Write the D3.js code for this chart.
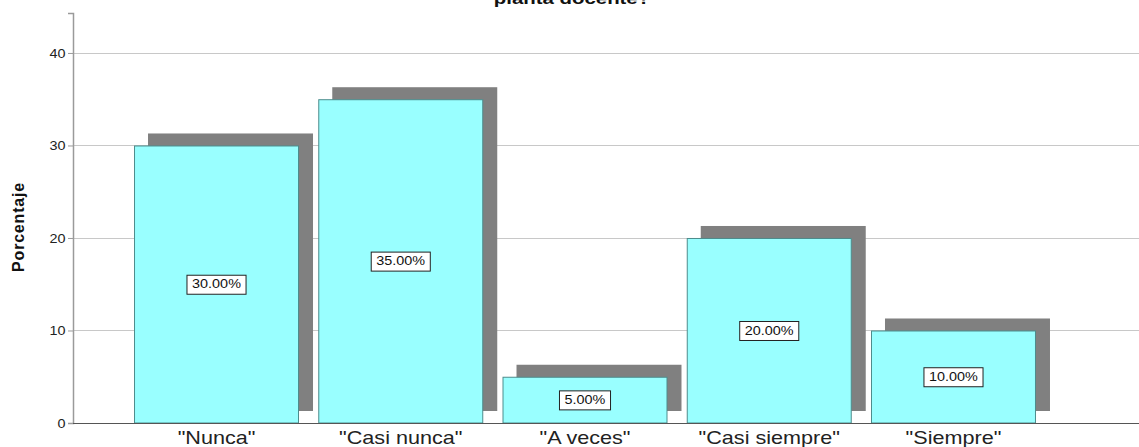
<!DOCTYPE html>
<html><head><meta charset="utf-8">
<script src="https://cdn.jsdelivr.net/npm/d3@7"></script>
<style>html,body{margin:0;padding:0;background:#fff;}svg{display:block;}</style>
</head><body>
<svg id="chart" width="1139" height="447"></svg>
<script>
const categories = ['"Nunca"', '"Casi nunca"', '"A veces"', '"Casi siempre"', '"Siempre"'];
const percentages = [30, 35, 5, 20, 10];
const pctLabels = ["30.00%", "35.00%", "5.00%", "20.00%", "10.00%"];
const yTicks = [0, 10, 20, 30, 40];
const titleText = "planta docente?";
const yTitle = "Porcentaje";

(function () {
const svg = d3.select("#chart");
const pLeft = 73, pRight = 1139, pTop = 13, pBottom = 423;
const SX = 1.2;
const font = "Arial, 'Liberation Sans', sans-serif";

const y = d3.scaleLinear().domain([0, 44.32]).range([pBottom, pTop]);
const x = d3.scaleBand().domain(categories).range([124.4, 1045.6]).paddingInner(0.1045).paddingOuter(0.0522);

// gridlines
svg.append("g").selectAll("line").data(yTicks.filter(d => d > 0)).join("line")
  .attr("x1", pLeft).attr("x2", pRight)
  .attr("y1", d => Math.round(y(d)) + 0.5).attr("y2", d => Math.round(y(d)) + 0.5)
  .attr("stroke", "#c8c8c8").attr("stroke-width", 1);

// y axis
const yAxis = d3.axisLeft(y).tickValues(yTicks).tickSize(5).tickFormat(d3.format("d"));
const ga = svg.append("g").attr("transform", `translate(${pLeft},0)`).call(yAxis);
ga.select(".domain").attr("stroke", "#9a9a9a").attr("stroke-width", 1.5);
ga.selectAll(".tick line").attr("stroke", "#9a9a9a");
ga.selectAll(".tick text")
   .attr("x", null).attr("dy", null)
   .attr("text-anchor", "end")
   .attr("dominant-baseline", "central")
   .attr("transform", `translate(-7.5,0) scale(${SX},1)`)
   .attr("font-family", font).attr("font-size", 12).attr("fill", "#222");

// shadows
const dx = 14, dy = -12;
svg.append("g").selectAll("rect").data(percentages).join("rect")
  .attr("x", (d, i) => x(categories[i]) + dx)
  .attr("y", d => y(d) + dy)
  .attr("width", x.bandwidth())
  .attr("height", d => pBottom - y(d))
  .attr("fill", "#808080");

// bars
svg.append("g").selectAll("rect").data(percentages).join("rect")
  .attr("x", (d, i) => x(categories[i]) + 0.5)
  .attr("y", d => y(d) + 0.5)
  .attr("width", x.bandwidth() - 1)
  .attr("height", d => pBottom - y(d) - 0.5)
  .attr("fill", "#99ffff")
  .attr("stroke", "#4d8c8c").attr("stroke-width", 1);

// x baseline
svg.append("line").attr("x1", pLeft).attr("x2", pRight).attr("y1", pBottom + 0.5).attr("y2", pBottom + 0.5)
  .attr("stroke", "#555").attr("stroke-width", 1.2);

// percentage labels
const lg = svg.append("g");
percentages.forEach((v, i) => {
  const cx = x(categories[i]) + x.bandwidth() / 2;
  const cy = y(v / 2);
  const g = lg.append("g").attr("transform", `translate(${cx},${cy})`);
  const r = g.append("rect");
  const t = g.append("text").text(pctLabels[i])
    .attr("text-anchor", "middle").attr("dominant-baseline", "central")
    .attr("transform", `scale(${SX},1)`)
    .attr("font-family", font).attr("font-size", 12).attr("fill", "#111");
  const bb = t.node().getBBox();
  const w = bb.width * SX + 10;
  const h = 19;
  r.attr("x", -w / 2).attr("y", -h / 2 + 0.5).attr("width", w).attr("height", h)
   .attr("fill", "#fff").attr("stroke", "#222").attr("stroke-width", 1);
});

// x category labels
svg.append("g").selectAll("text").data(categories).join("text")
  .text(d => d)
  .attr("text-anchor", "middle")
  .attr("transform", d => `translate(${x(d) + x.bandwidth() / 2},444) scale(${SX},1)`)
  .attr("font-family", font).attr("font-size", 18).attr("fill", "#222");

// y title
svg.append("text").text(yTitle)
  .attr("text-anchor", "middle")
  .attr("transform", `translate(24,227) rotate(-90)`)
  .attr("font-family", font).attr("font-size", 16).attr("font-weight", "bold")
  .attr("letter-spacing", "0.8px").attr("fill", "#111");

// title (cut off at top, as in the reference)
svg.append("text").text(titleText)
  .attr("text-anchor", "middle")
  .attr("transform", `translate(572,4) scale(${SX},1)`)
  .attr("font-family", font).attr("font-size", 17).attr("font-weight", "bold").attr("fill", "#111");
})();
</script>
</body></html>
